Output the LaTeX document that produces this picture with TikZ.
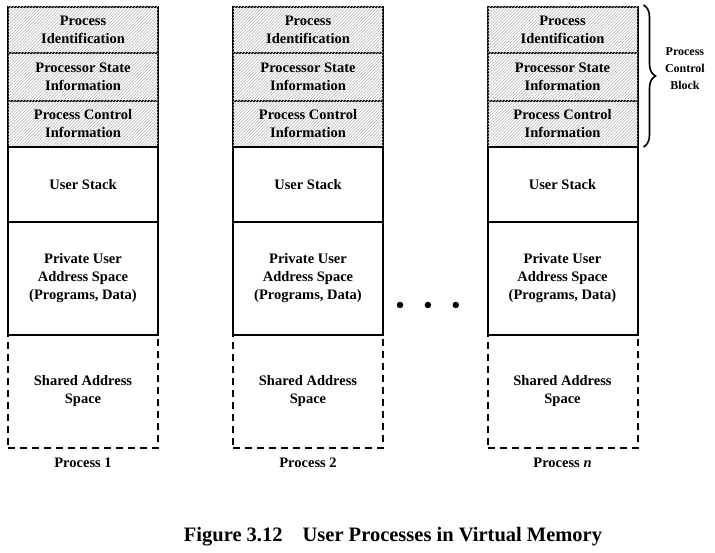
\documentclass[tikz,border=0pt]{standalone}
\usepackage{fontspec}
\setmainfont{Liberation Serif}
\usetikzlibrary{positioning,calc,patterns.meta,decorations.pathreplacing}

\tikzset{
    seg/.style={draw=black,line width=2pt,fill=white,minimum width=150pt,
        inner sep=0pt,outer sep=0pt,align=center},
    pcbseg/.style={seg,postaction={pattern={Lines[angle=45,distance=2.2pt,line width=0.7pt]},pattern color=gray!50}},
    sharedseg/.style={seg,dash pattern=on 7pt off 5pt},
    dot/.style={circle,fill=black,inner sep=0pt,minimum size=6.5pt}
}

\begin{document}
\begin{tikzpicture}[x=1pt,y=1pt,font=\bfseries\fontsize{14.5}{18}\selectfont]
    \useasboundingbox (0,0) rectangle (715,553);
    \foreach \c/\x/\lbl in {1/83/{Process 1},2/308/{Process 2},3/562.5/{Process \textit{n}}} {
        % control block on top, then the user part
        \node [pcbseg,minimum height=46pt,anchor=north] (pid\c) at (\x,546) {Process\\Identification};
        \node [pcbseg,minimum height=48pt,below=0pt of pid\c] (pstate\c) {Processor State\\Information};
        \node [pcbseg,minimum height=46pt,below=0pt of pstate\c] (pctrl\c) {Process Control\\Information};
        \node [seg,minimum height=75pt,below=0pt of pctrl\c] (ustack\c) {User Stack};
        \node [sharedseg,minimum height=113pt,below=113pt of ustack\c] (shared\c) {Shared Address\\Space};
        \node [seg,minimum height=113pt,below=0pt of ustack\c] (priv\c) {Private User\\Address Space\\(Programs, Data)};
        \node [below=6pt of shared\c] (plabel\c) {\lbl};
    }
    \node [dot] (dot1) at (400,248) {};
    \node [dot,right=21pt of dot1] (dot2) {};
    \node [dot,right=21pt of dot2] (dot3) {};
    \draw [decorate,decoration={brace,amplitude=12pt},line width=1.6pt]
        ($(pid3.north east)+(6,2)$) -- ($(pctrl3.south east)+(6,0)$);
    \coordinate (pcbtip) at ($(pid3.north east)!0.5!(pctrl3.south east)+(18,0)$);
    \node [right=6pt of pcbtip,yshift=8pt,align=center,font=\bfseries\fontsize{12}{17}\selectfont] (pcb) {Process\\Control\\Block};
    \node [font=\bfseries\fontsize{20.5}{21}\selectfont,inner sep=0pt] (caption) at (393,16)
        {Figure 3.12\hspace{20pt}User Processes in Virtual Memory};
\end{tikzpicture}
\end{document}
